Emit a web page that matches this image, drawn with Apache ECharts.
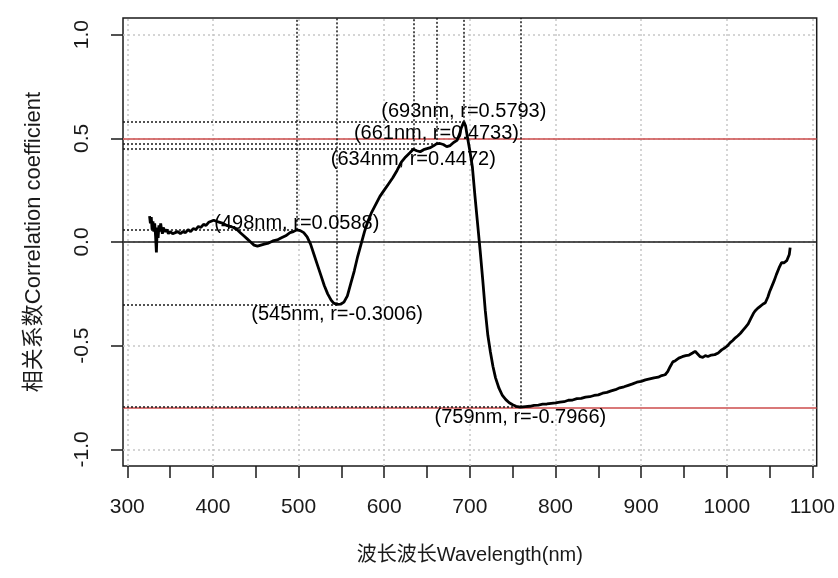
<!DOCTYPE html>
<html>
<head>
<meta charset="utf-8">
<script src="https://cdn.jsdelivr.net/npm/echarts@6/dist/echarts.min.js"></script>
<style>
  html, body { margin: 0; padding: 0; background: #fff; }
  #chart { width: 838px; height: 578px; }
</style>
</head>
<body>
<div id="chart"></div>
<script>
// 波长 (nm) / 相关系数
var wavelength = [326,327,328,329,330,331,332,333,334,335,336,337,338,339,340,341,342,344,346,348,350,353,356,359,362,365,368,371,374,377,380,383,386,389,392,395,398,401,404,408,412,416,420,424,428,432,436,440,444,448,452,456,460,465,470,475,480,485,490,494,498,502,506,510,514,518,522,526,530,534,538,541,545,549,553,557,561,565,569,573,577,581,585,590,595,600,605,610,615,620,625,630,634,638,642,646,650,654,658,661,665,669,673,677,681,685,688,690,693,695,697,700,703,706,709,712,715,718,721,724,727,730,734,738,742,746,750,754,759,765,770,775,780,785,790,795,800,805,810,815,820,825,830,835,840,845,850,855,860,865,870,875,880,885,890,895,900,905,910,915,920,924,928,931,934,937,940,944,948,952,956,960,963,966,969,972,975,978,982,986,990,994,998,1001,1004,1007,1010,1013,1016,1019,1022,1025,1028,1031,1033,1036,1039,1042,1045,1048,1050,1052,1055,1058,1061,1064,1067,1070,1072,1073,1074];
var corr = [0.125,0.09,0.12,0.06,0.10,0.05,0.09,0.03,-0.05,0.07,0.02,0.08,0.05,0.09,0.06,0.04,0.07,0.05,0.06,0.04,0.05,0.04,0.045,0.05,0.04,0.05,0.045,0.06,0.05,0.065,0.06,0.075,0.07,0.085,0.08,0.095,0.10,0.105,0.10,0.095,0.09,0.08,0.075,0.07,0.06,0.045,0.03,0.015,0.0,-0.015,-0.02,-0.015,-0.01,-0.005,0.005,0.01,0.02,0.03,0.045,0.05,0.0588,0.055,0.045,0.025,-0.01,-0.06,-0.11,-0.16,-0.21,-0.25,-0.28,-0.295,-0.3006,-0.30,-0.29,-0.26,-0.2,-0.14,-0.07,-0.01,0.05,0.10,0.14,0.18,0.22,0.25,0.28,0.31,0.345,0.385,0.41,0.43,0.4472,0.44,0.435,0.445,0.45,0.455,0.465,0.4733,0.475,0.47,0.46,0.465,0.48,0.49,0.52,0.55,0.5793,0.56,0.51,0.44,0.36,0.22,0.09,-0.04,-0.18,-0.33,-0.45,-0.53,-0.6,-0.655,-0.705,-0.74,-0.76,-0.775,-0.785,-0.792,-0.7966,-0.794,-0.792,-0.788,-0.786,-0.782,-0.781,-0.778,-0.776,-0.772,-0.770,-0.763,-0.762,-0.755,-0.754,-0.748,-0.746,-0.740,-0.737,-0.729,-0.725,-0.718,-0.712,-0.703,-0.698,-0.691,-0.684,-0.676,-0.672,-0.665,-0.66,-0.655,-0.652,-0.644,-0.64,-0.625,-0.6,-0.578,-0.572,-0.56,-0.553,-0.548,-0.545,-0.535,-0.527,-0.54,-0.553,-0.556,-0.548,-0.552,-0.545,-0.543,-0.535,-0.52,-0.51,-0.5,-0.485,-0.475,-0.462,-0.452,-0.44,-0.425,-0.41,-0.395,-0.37,-0.345,-0.333,-0.32,-0.31,-0.30,-0.293,-0.265,-0.24,-0.22,-0.19,-0.156,-0.125,-0.10,-0.10,-0.09,-0.084,-0.06,-0.027];

// marked extremes
var peakWl = [693, 661, 634, 498, 545, 759];
var peakR = [0.5793, 0.4733, 0.4472, 0.0588, -0.3006, -0.7966];

// axes
var xTicks = [300,350,400,450,500,550,600,650,700,750,800,850,900,950,1000,1050,1100];
var xLabels = [300,400,500,600,700,800,900,1000,1100];
var yTicks = [-1, -0.5, 0, 0.5, 1];
var refLines = [0.5, -0.8];

var X_MIN = 295, X_MAX = 1105, Y_MIN = -1.08, Y_MAX = 1.08;
var FONT = '"Liberation Sans", "Noto Sans CJK SC", sans-serif';

var chart = echarts.init(document.getElementById('chart'));

var curve = wavelength.map(function (w, i) { return [w, corr[i]]; });

// dotted guides: from left edge to the point, from the point up to the top
var guides = [];
peakWl.forEach(function (w, i) {
  guides.push([{ coord: [X_MIN, peakR[i]] }, { coord: [w, peakR[i]] }]);
  guides.push([{ coord: [w, peakR[i]] }, { coord: [w, Y_MAX] }]);
});

var below = { 634: true, 545: true, 759: true };
var labelPts = peakWl.map(function (w, i) {
  return {
    value: [w, peakR[i]],
    label: { position: below[w] ? 'bottom' : 'top', distance: w === 498 ? -4 : 0 }
  };
});

var gridLines = xLabels.map(function (v) { return { xAxis: v }; })
  .concat(yTicks.map(function (v) { return { yAxis: v }; }));

chart.setOption({
  animation: false,
  textStyle: { fontFamily: FONT },
  grid: {
    left: 123, right: 20, top: 18, bottom: 112,
    show: true, borderColor: '#1a1a1a', borderWidth: 1.5, backgroundColor: 'transparent'
  },
  xAxis: {
    type: 'value', min: X_MIN, max: X_MAX,
    name: '波长波长Wavelength(nm)', nameLocation: 'middle', nameGap: 79,
    nameTextStyle: { fontSize: 20, color: '#1a1a1a', fontFamily: FONT },
    axisLine: { show: false, onZero: false },
    axisTick: { show: true, length: 12, customValues: xTicks, lineStyle: { color: '#1a1a1a', width: 1.5 } },
    axisLabel: {
      customValues: xLabels, margin: 31, fontSize: 21, color: '#1a1a1a', fontFamily: FONT,
      formatter: function (v) { return String(v); }
    },
    splitLine: { show: false }
  },
  yAxis: {
    type: 'value', min: Y_MIN, max: Y_MAX,
    name: '相关系数Correlation coefficient', nameLocation: 'middle', nameGap: 78,
    nameTextStyle: { fontSize: 22, color: '#1a1a1a', fontFamily: FONT },
    axisLine: { show: false, onZero: false },
    axisTick: { show: true, length: 12, customValues: yTicks, lineStyle: { color: '#1a1a1a', width: 1.5 } },
    axisLabel: {
      customValues: yTicks, rotate: 90, margin: 30, fontSize: 21, color: '#1a1a1a', fontFamily: FONT,
      formatter: function (v) { return v.toFixed(1); }
    },
    splitLine: { show: false }
  },
  series: [
    { // R grid()
      type: 'line', data: [], silent: true, z: 1,
      markLine: {
        silent: true, symbol: 'none', label: { show: false },
        lineStyle: { color: '#c8c8c8', width: 1.5, type: [2, 3] },
        data: gridLines
      }
    },
    { // abline h = 0, 0.5, -0.8
      type: 'line', data: [], silent: true, z: 2,
      markLine: {
        silent: true, symbol: 'none', label: { show: false },
        data: [{ yAxis: 0, lineStyle: { color: '#1a1a1a', width: 1.5, type: 'solid' } }]
          .concat(refLines.map(function (v) {
            return { yAxis: v, lineStyle: { color: '#cc4b4b', width: 1.5, type: 'solid' } };
          }))
      }
    },
    {
      type: 'line', data: [], silent: true, z: 3,
      markLine: {
        silent: true, symbol: 'none', label: { show: false },
        lineStyle: { color: '#1a1a1a', width: 1.5, type: [2, 2] },
        data: guides
      }
    },
    {
      type: 'line', data: curve, showSymbol: false, z: 5,
      lineStyle: { color: '#000', width: 2.8 }
    },
    {
      type: 'scatter', data: labelPts, symbolSize: 0, z: 6, silent: true,
      itemStyle: { opacity: 1 },
      label: {
        show: true, fontSize: 20, color: '#000', fontFamily: FONT,
        formatter: function (p) {
          return '(' + p.value[0] + 'nm, r=' + p.value[1].toFixed(4) + ')';
        }
      }
    }
  ]
});
</script>
</body>
</html>
